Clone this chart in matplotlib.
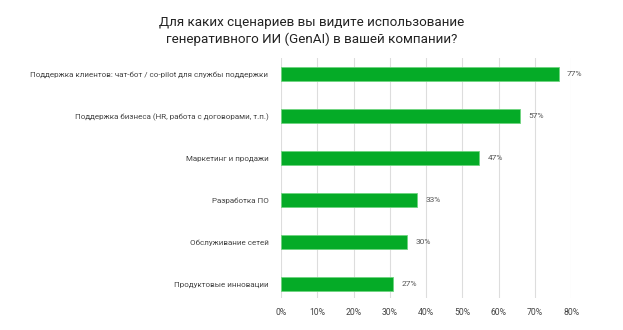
import matplotlib
matplotlib.use('Agg')
import matplotlib.pyplot as plt
import numpy as np

title = "Для каких сценариев вы видите использование\nгенеративного ИИ (GenAI) в вашей компании?"

categories = [
    'Поддержка клиентов: чат-бот / co-pilot для службы поддержки',
    'Поддержка бизнеса (HR, работа с договорами, т.п.)',
    'Маркетинг и продажи',
    'Разработка ПО',
    'Обслуживание сетей',
    'Продуктовые инновации',
]
# bar lengths as drawn in the source (they do not match the printed labels)
bar_values = [76.5, 65.8, 54.6, 37.5, 34.7, 30.9]
value_labels = ['77%', '57%', '47%', '33%', '30%', '27%']
x_ticks = [0, 10, 20, 30, 40, 50, 60, 70, 80]

plt.rcParams['font.family'] = ['Roboto', 'DejaVu Sans']

fig = plt.figure(figsize=(6.23, 3.30), dpi=100)
ax = fig.add_axes([0.451, 0.097, 0.466, 0.727])

y = np.arange(len(categories))
ax.barh(y, bar_values, height=0.33, color='#05AB27', edgecolor='#6fd47f',
        linewidth=0.6, zorder=3)

for yi, v, lab in zip(y, bar_values, value_labels):
    ax.annotate(lab, (v, yi), xytext=(6, 0), textcoords='offset points',
                va='center', ha='left', fontsize=6.0, color='#555555',
                annotation_clip=False)

ax.set_xlim(0, 80)
ax.set_ylim(5.33, -0.38)
ax.set_xticks(x_ticks)
ax.set_xticklabels([f'{t}%' for t in x_ticks])
ax.set_yticks(y)
ax.set_yticklabels(categories)
ax.tick_params(axis='both', length=0, labelcolor='#444444')
ax.tick_params(axis='y', pad=9, labelsize=5.75)
ax.tick_params(axis='x', pad=7, labelsize=6.2)
ax.grid(axis='x', color='#dddddd', linewidth=0.8, zorder=0)
for s in ax.spines.values():
    s.set_visible(False)

fig.text(0.5, 0.906, title, ha='center', va='center', fontsize=9.6,
         color='#222222', linespacing=1.3)

fig.savefig('out.png', dpi=100, facecolor='white')
